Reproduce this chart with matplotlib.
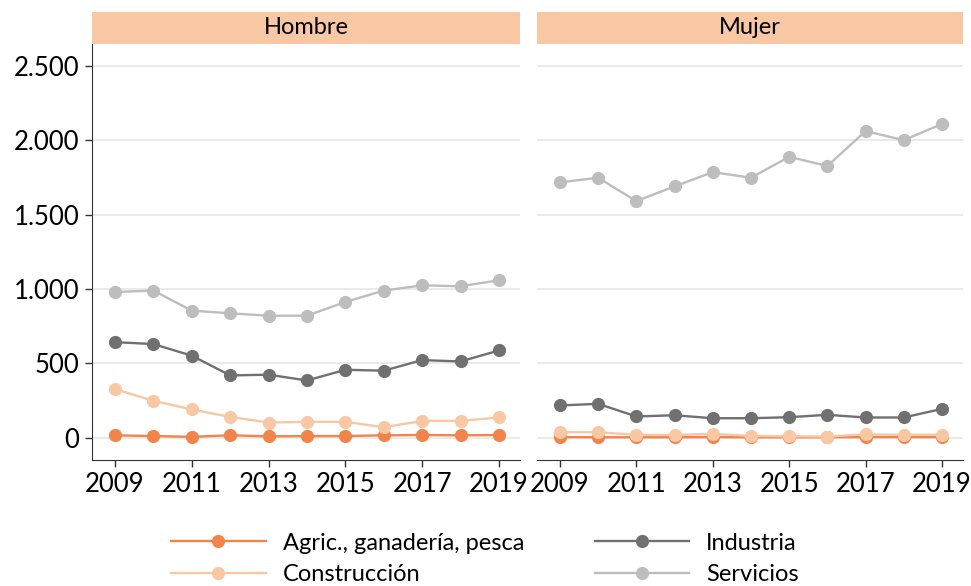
import matplotlib
matplotlib.use("Agg")
import matplotlib.pyplot as plt
from matplotlib.ticker import FuncFormatter

plt.rcParams['font.family'] = ['Lato', 'DejaVu Sans']

years = [2009, 2010, 2011, 2012, 2013, 2014, 2015, 2016, 2017, 2018, 2019]
panels = ["Hombre", "Mujer"]
sectors = ["Agric., ganadería, pesca", "Construcción", "Industria", "Servicios"]
colors = ["#F0844A", "#F8C8A4", "#707070", "#BDBDBD"]

hombre_agric = [15, 10, 5, 15, 8, 10, 10, 15, 17, 15, 17]
hombre_constr = [326, 247, 189, 139, 101, 106, 106, 69, 112, 112, 135]
hombre_indus = [642, 629, 551, 418, 423, 384, 456, 450, 521, 512, 586]
hombre_serv = [979, 989, 854, 836, 820, 820, 912, 989, 1024, 1018, 1058]

mujer_agric = [3, 2, 2, 2, 3, 2, 2, 2, 3, 3, 3]
mujer_constr = [36, 36, 18, 18, 25, 11, 9, 7, 22, 18, 20]
mujer_indus = [216, 227, 142, 150, 130, 130, 137, 153, 135, 135, 193]
mujer_serv = [1717, 1748, 1591, 1690, 1786, 1748, 1889, 1827, 2062, 2001, 2110]

data = {
    "Hombre": [hombre_agric, hombre_constr, hombre_indus, hombre_serv],
    "Mujer": [mujer_agric, mujer_constr, mujer_indus, mujer_serv],
}

yticks = [0, 500, 1000, 1500, 2000, 2500]
xticks = [2009, 2011, 2013, 2015, 2017, 2019]

W, H = 971, 586
fig = plt.figure(figsize=(W / 100, H / 100), dpi=100)

boxes = [(92, 520), (537, 963)]
top, bottom = 44, 460
strip_top = 12

fmt = FuncFormatter(lambda v, p: f"{int(v):,}".replace(",", "."))

handles = []
for i, (panel, (x0, x1)) in enumerate(zip(panels, boxes)):
    ax = fig.add_axes([x0 / W, (H - bottom) / H, (x1 - x0) / W, (bottom - top) / H])
    for vals, col, lab in zip(data[panel], colors, sectors):
        h, = ax.plot(years, vals, color=col, lw=1.7, marker="o", ms=9.5,
                     markeredgewidth=0, label=lab, zorder=3)
        if i == 0:
            handles.append(h)
    ax.set_xlim(2008.40, 2019.55)
    ax.set_ylim(-151, 2648)
    ax.set_yticks(yticks)
    ax.set_xticks(xticks)
    ax.yaxis.set_major_formatter(fmt)
    ax.grid(axis="y", color="#E6E6E6", lw=1.2, zorder=0)
    ax.set_axisbelow(True)
    for s in ["top", "right"]:
        ax.spines[s].set_visible(False)
    ax.spines["bottom"].set_color("#333333")
    ax.spines["left"].set_color("#333333")
    ax.tick_params(axis="both", labelsize=18.5, color="#333333", length=5, width=1.0, pad=4)
    if i == 1:
        ax.spines["left"].set_visible(False)
        ax.tick_params(axis="y", left=False, labelleft=False)
    # strip
    sax = fig.add_axes([x0 / W, (H - top) / H, (x1 - x0) / W, (top - strip_top) / H])
    sax.set_facecolor("#F8C8A4")
    sax.set_xticks([])
    sax.set_yticks([])
    for s in sax.spines.values():
        s.set_visible(False)
    sax.text(0.5, 0.5, panel, ha="center", va="center", fontsize=17, transform=sax.transAxes)

fig.legend(handles=handles, labels=sectors, ncol=2, loc="center",
           bbox_to_anchor=(485 / W, (H - 559) / H), frameon=False, fontsize=17,
           handlelength=4.0, handletextpad=0.72, columnspacing=3.0, labelspacing=0.45,
           borderpad=0)

fig.savefig("out.png", dpi=100)
